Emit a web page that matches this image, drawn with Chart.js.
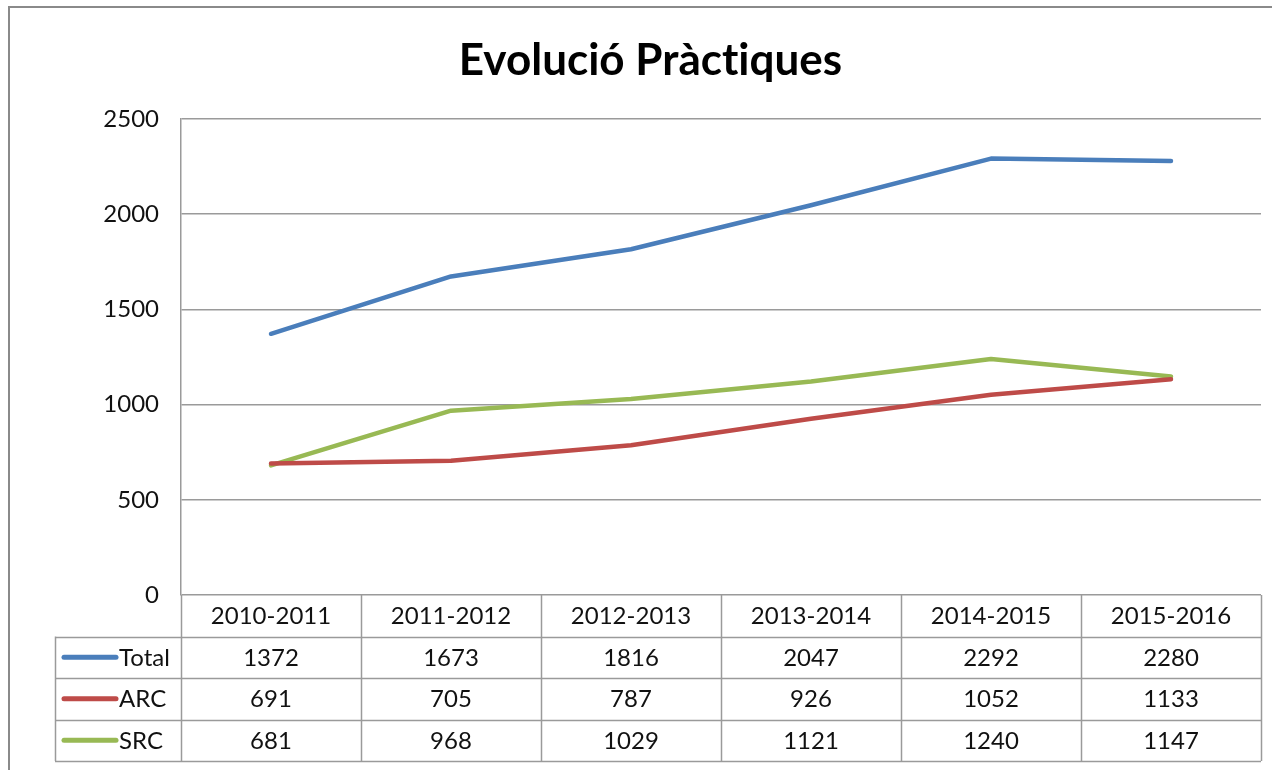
<!DOCTYPE html>
<html>
<head>
<meta charset="utf-8">
<title>Evolució Pràctiques</title>
<script src="https://cdn.jsdelivr.net/npm/chart.js@4/dist/chart.umd.min.js"></script>
<style>
  html, body { margin: 0; padding: 0; background: #fff; }
  #wrap { width: 1272px; height: 770px; position: relative; }
</style>
</head>
<body>
<div id="wrap"><canvas id="chart" width="1272" height="770"></canvas></div>
<script>
// data
const categories = ['2010-2011', '2011-2012', '2012-2013', '2013-2014', '2014-2015', '2015-2016'];
const totalValues = [1372, 1673, 1816, 2047, 2292, 2280];
const arcValues = [691, 705, 787, 926, 1052, 1133];
const srcValues = [681, 968, 1029, 1121, 1240, 1147];
const yTicks = [0, 500, 1000, 1500, 2000, 2500];

const FONT = 'Lato, "Open Sans", sans-serif';
const GRID = '#9a9a9a';

// outer frame of the chart object
const framePlugin = {
  id: 'frame',
  beforeDraw(chart) {
    const ctx = chart.ctx;
    // tiny spacing keeps Lato from joining "ti" into a ligature
    if ('letterSpacing' in ctx) ctx.letterSpacing = '0.01px';
    ctx.save();
    ctx.fillStyle = '#fff';
    ctx.fillRect(0, 0, chart.width, chart.height);
    ctx.strokeStyle = '#8a8a8a';
    ctx.lineWidth = 2;
    ctx.strokeRect(9, 7, chart.width + 20, chart.height + 20);
    ctx.restore();
  }
};

// data table under the plot, with legend keys
const tablePlugin = {
  id: 'dataTable',
  afterDraw(chart, args, opts) {
    const ctx = chart.ctx;
    const xs = chart.scales.x;
    const area = chart.chartArea;
    const step = xs.getPixelForValue(1) - xs.getPixelForValue(0);
    const rowH = opts.rowHeight;
    const top = area.bottom;
    const rows = chart.data.datasets.length;
    const bottom = top + rowH * (rows + 1);
    const left = opts.left;

    ctx.save();
    ctx.strokeStyle = GRID;
    ctx.lineWidth = 1.5;
    ctx.beginPath();
    // vertical lines between categories
    for (let i = 0; i <= categories.length; i++) {
      const x = Math.round(xs.getPixelForValue(0) - step / 2 + i * step) + 0.5;
      ctx.moveTo(x, top);
      ctx.lineTo(x, bottom);
    }
    // horizontal lines
    for (let r = 1; r <= rows + 1; r++) {
      const y = Math.round(top + r * rowH) + 0.5;
      ctx.moveTo(left, y);
      ctx.lineTo(area.right, y);
    }
    ctx.moveTo(left + 0.5, top + rowH);
    ctx.lineTo(left + 0.5, bottom);
    ctx.stroke();

    ctx.fillStyle = '#111';
    ctx.font = '24px ' + FONT;
    ctx.textAlign = 'center';
    ctx.textBaseline = 'middle';
    categories.forEach((c, i) => {
      ctx.fillText(c, xs.getPixelForValue(i), top + rowH / 2 + 1);
    });
    chart.data.datasets.forEach((ds, r) => {
      const yc = top + rowH * (r + 1) + rowH / 2 + 1;
      ds.data.forEach((v, i) => {
        ctx.fillText(String(v), xs.getPixelForValue(i), yc);
      });
      // legend key
      ctx.strokeStyle = ds.borderColor;
      ctx.lineWidth = 5;
      ctx.lineCap = 'round';
      ctx.beginPath();
      ctx.moveTo(left + 9, yc - 1);
      ctx.lineTo(left + 61, yc - 1);
      ctx.stroke();
      ctx.textAlign = 'left';
      ctx.fillText(ds.label, left + 64, yc);
      ctx.textAlign = 'center';
    });
    ctx.restore();
  }
};

const config = {
  type: 'line',
  data: {
    labels: categories,
    datasets: [{
      label: 'Total',
      data: totalValues,
      borderColor: '#4a7ebb',
      borderWidth: 4.5
    }, {
      label: 'ARC',
      data: arcValues,
      borderColor: '#be4b48',
      borderWidth: 4.5
    }, {
      label: 'SRC',
      data: srcValues,
      borderColor: '#98b954',
      borderWidth: 4.5
    }]
  },
  options: {
    responsive: false,
    animation: false,
    events: [],
    elements: {
      point: { radius: 0 },
      line: { tension: 0, borderCapStyle: 'round', borderJoinStyle: 'round' }
    },
    layout: { padding: { left: 40, right: 11, top: 0, bottom: 175 } },
    plugins: {
      legend: { display: false },
      tooltip: { enabled: false },
      title: {
        display: true,
        text: 'Evolució Pràctiques',
        color: '#000',
        font: { family: FONT, size: 44, weight: 'bold', lineHeight: 1.2 },
        padding: { top: 34, bottom: 32.2 }
      },
      dataTable: { rowHeight: 41.5, left: 55 }
    },
    scales: {
      x: {
        type: 'category',
        offset: true,
        display: false
      },
      y: {
        min: 0,
        max: 2500,
        afterBuildTicks: (scale) => { scale.ticks = yTicks.map(v => ({ value: v })); },
        afterFit: (scale) => { scale.width = 141; },
        ticks: {
          color: '#111',
          padding: 22,
          font: { family: FONT, size: 24 },
          callback: (v) => String(v)
        },
        grid: { color: GRID, lineWidth: 1.5, drawTicks: false },
        border: { display: true, color: GRID, width: 1.5 }
      }
    }
  },
  plugins: [framePlugin, tablePlugin]
};

new Chart(document.getElementById('chart'), config);
</script>
</body>
</html>
